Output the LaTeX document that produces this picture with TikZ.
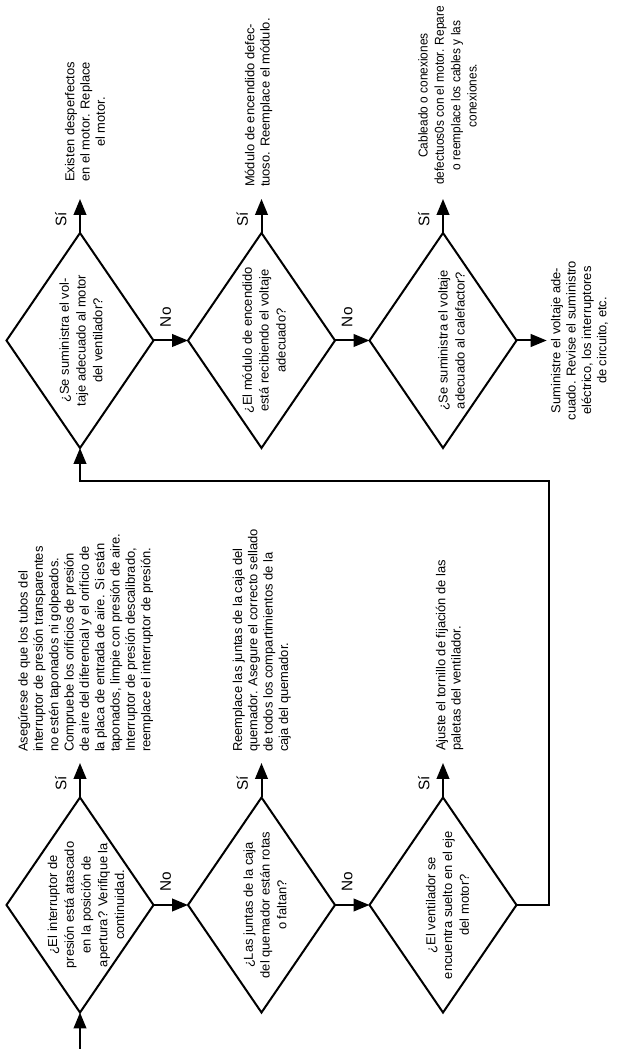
\documentclass[tikz,border=0pt]{standalone}
\usepackage{fontspec}
\setmainfont{Liberation Sans}
\newfontfamily\narrowsans[FakeStretch=0.92]{Liberation Sans}
\usetikzlibrary{shapes.geometric,arrows.meta}

\begin{document}
\begin{tikzpicture}[x=0.75pt,y=0.75pt,rotate=90,transform shape,line width=1.5pt]
      \tikzset{>={Triangle[length=12pt,width=9.5pt]}}
      \tikzset{question/.style={shape=diamond,draw=black,minimum width=161.25pt,minimum height=110.25pt,inner sep=0pt,outer sep=0pt}}
      \tikzset{qtext/.style={align=center,inner sep=0pt,font=\fontsize{9.7}{12.6}\selectfont}}
      \tikzset{action/.style={anchor=west,inner sep=0pt,font=\fontsize{9.7}{11.5}\selectfont}}
      \tikzset{answer/.style={font=\fontsize{11.5}{13}\selectfont}}

      \useasboundingbox (0,-617) rectangle (1049,0);

      \node[question](q1) at (144,-80) {};
      \node[question](q2) at (144,-261.5) {};
      \node[question](q3) at (144,-443) {};
      \node[question](q4) at (708.5,-80) {};
      \node[question](q5) at (708.5,-261.5) {};
      \node[question](q6) at (708.5,-443) {};

      \node[qtext](q1t) at (144,-86) {¿El interruptor de\\presión está atascado\\en la posición de\\apertura? Verifique la\\continuidad.};
      \node[qtext](q2t) at (144,-265) {¿Las juntas de la caja\\del quemador están rotas\\o faltan?};
      \node[qtext](q3t) at (144,-447.5) {¿El ventilador se\\encuentra suelto en el eje\\del motor?};
      \node[qtext](q4t) at (708.5,-81) {¿Se suministra el vol-\\taje adecuado al motor\\del ventilador?};
      \node[qtext](q5t) at (708.5,-264) {¿El módulo de encendido\\está recibiendo el voltaje\\adecuado?};
      \node[qtext](q6t) at (708.5,-451.5) {¿Se suministra el voltaje\\adecuado al calefactor?};

      \node[action,align=left](a1) at (296,-85.5) {Asegúrese de que los tubos del\\interruptor de presión transparentes\\no estén taponados ni golpeados.\\Compruebe los orificios de presión\\de aire del diferencial y el orificio de\\la placa de entrada de aire. Si están\\taponados, limpie con presión de aire.\\Interruptor de presión descalibrado,\\reemplace el interruptor de presión.};
      \node[action,align=left](a2) at (296,-261.7) {Reemplace las juntas de la caja del\\quemador. Asegure el correcto sellado\\de todos los compartimientos de la\\caja del quemador.};
      \node[action,align=left](a3) at (297,-449.5) {Ajuste el tornillo de fijación de las\\paletas del ventilador.};
      \node[action,align=center](b1) at (866,-85) {Existen desperfectos\\en el motor. Replace\\el motor.};
      \node[action,align=left](b2) at (861,-258.5) {Módulo de encendido defec-\\tuoso. Reemplace el módulo.};
      \node[action,align=center,font=\narrowsans\fontsize{9.7}{12.2}\selectfont](b3) at (863,-447.5) {Cableado o conexiones\\defectuos0s con el motor. Repare\\o reemplace los cables y las\\conexiones.};
      \node[action,align=center,anchor=north](b4) at (708.5,-550) {Suministre el voltaje ade-\\cuado. Revise el suministro\\eléctrico, los interruptores\\de circuito, etc.};

      \coordinate (in) at (0,-80);
      \coordinate (y1) at (286,-80);
      \coordinate (y2) at (286,-261.5);
      \coordinate (y3) at (286,-443);
      \coordinate (y4) at (850,-80);
      \coordinate (y5) at (850,-261.5);
      \coordinate (y6) at (850,-443);
      \coordinate (n6) at (708.5,-546.7);
      \coordinate (r1) at (144,-549.3);
      \coordinate (r2) at (568.3,-549.3);
      \coordinate (r3) at (568.3,-80);

      \draw [->] (in) -- (q1.west);
      \draw [->] (q1.east) -- node[answer,pos=0.4,above=6pt]{Sí} (y1);
      \draw [->] (q2.east) -- node[answer,pos=0.4,above=6pt]{Sí} (y2);
      \draw [->] (q3.east) -- node[answer,pos=0.4,above=6pt]{Sí} (y3);
      \draw [->] (q4.east) -- node[answer,pos=0.4,above=6pt]{Sí} (y4);
      \draw [->] (q5.east) -- node[answer,pos=0.4,above=6pt]{Sí} (y5);
      \draw [->] (q6.east) -- node[answer,pos=0.4,above=6pt]{Sí} (y6);
      \draw [->] (q1.south) -- node[answer,pos=0.35,right=6pt]{No} (q2.north);
      \draw [->] (q2.south) -- node[answer,pos=0.35,right=6pt]{No} (q3.north);
      \draw [->] (q4.south) -- node[answer,pos=0.35,right=6pt]{No} (q5.north);
      \draw [->] (q5.south) -- node[answer,pos=0.35,right=6pt]{No} (q6.north);
      \draw [->] (q6.south) -- (n6);
      \draw [->] (q3.south) -- (r1) -- (r2) -- (r3) -- (q4.west);
\end{tikzpicture}
\end{document}
